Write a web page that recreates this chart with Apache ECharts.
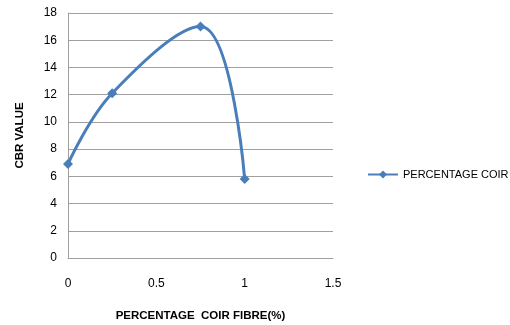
<!DOCTYPE html>
<html><head><meta charset="utf-8">
<script src="https://cdn.jsdelivr.net/npm/echarts@6/dist/echarts.min.js"></script>
<style>html,body{margin:0;padding:0;background:#fff}#c{width:510px;height:325px}</style>
</head><body><div id="c"></div>
<script>
const xValues = [0, 0.25, 0.75, 1];
const cbrValues = [6.9, 12.1, 17.0, 5.8];
const seriesName = 'PERCENTAGE COIR';
const xTitle = 'PERCENTAGE  COIR FIBRE(%)';
const yTitle = 'CBR VALUE';

const chart = echarts.init(document.getElementById('c'), null, {renderer: 'canvas'});
const font = 'Liberation Sans';
chart.setOption({
  animation: false,
  grid: {left: 68, right: 177, top: 13, bottom: 67, containLabel: false, outerBoundsMode: 'none'},
  legend: {
    show: true, left: 362, top: 164, orient: 'vertical',
    data: [{name: seriesName}],
    itemWidth: 30, itemHeight: 10, itemGap: 5,
    textStyle: {fontFamily: font, fontSize: 11, color: '#000'}
  },
  xAxis: {
    type: 'value', min: 0, max: 1.5, interval: 0.5,
    name: xTitle, nameLocation: 'middle', nameGap: 52,
    nameTextStyle: {fontFamily: font, fontSize: 11.5, fontWeight: 'bold', color: '#000'},
    axisLine: {show: true, lineStyle: {color: '#a0a0a0', width: 1}},
    axisTick: {show: false},
    splitLine: {show: false},
    axisLabel: {fontFamily: font, fontSize: 12, color: '#000', margin: 20}
  },
  yAxis: {
    type: 'value', min: 0, max: 18, interval: 2,
    name: yTitle, nameLocation: 'middle', nameGap: 42, nameRotate: 90,
    nameTextStyle: {fontFamily: font, fontSize: 11.5, fontWeight: 'bold', color: '#000'},
    axisLine: {show: true, lineStyle: {color: '#a0a0a0', width: 1}},
    axisTick: {show: false},
    splitLine: {show: true, lineStyle: {color: '#a0a0a0', width: 1}},
    axisLabel: {fontFamily: font, fontSize: 12, color: '#000', margin: 11}
  },
  series: [{
    name: seriesName, type: 'line', smooth: 0.4,
    data: xValues.map((x, i) => [x, cbrValues[i]]),
    symbol: 'diamond', symbolSize: 10,
    lineStyle: {color: '#4a7ebb', width: 3},
    itemStyle: {color: '#4a7ebb'}
  }]
});
</script></body></html>
